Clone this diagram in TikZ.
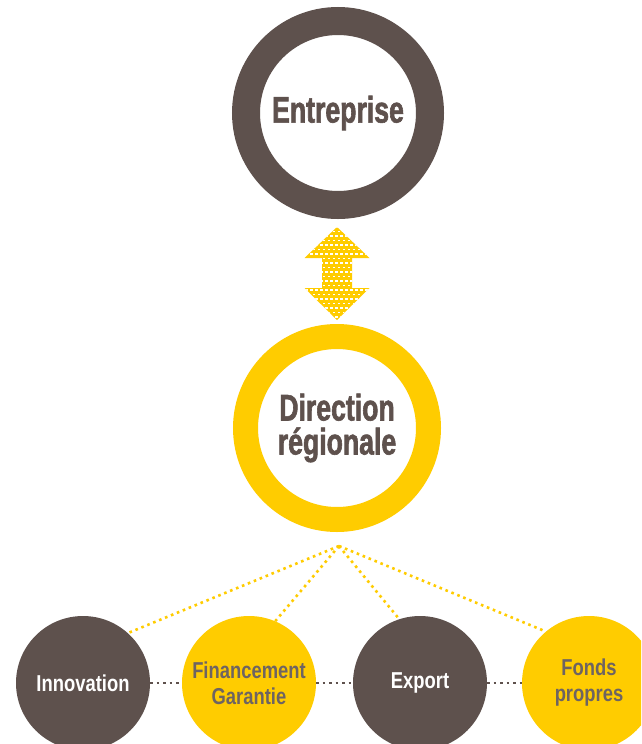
\documentclass[tikz,border=0pt]{standalone}
\usepackage{fontspec}
\setmainfont{Liberation Sans}
\newfontfamily\bigcond{Liberation Sans}[FakeStretch=0.72,FakeBold=1.6]
\newfontfamily\smallcond{Liberation Sans}[FakeStretch=0.8]
\definecolor{brownc}{HTML}{5E514D}
\definecolor{yellowc}{HTML}{FFCC00}
\definecolor{greytxt}{HTML}{6E6462}
\tikzset{
  ring/.style={circle, draw, fill=white, inner sep=0pt, align=center, text=brownc,
    font=\bigcond\bfseries\fontsize{37}{34}\selectfont},
  disc/.style={circle, inner sep=0pt, minimum size=134pt, align=center,
    font=\smallcond\bfseries\fontsize{23}{26}\selectfont},
  darkdisc/.style={disc, fill=brownc, text=white},
  yellowdisc/.style={disc, fill=yellowc, text=greytxt},
  ylink/.style={draw=yellowc, line width=2.6pt, dash pattern=on 2.6pt off 3.8pt},
  glink/.style={draw=brownc, line width=2.3pt, dash pattern=on 2.3pt off 4.2pt}
}
\begin{document}
\begin{tikzpicture}[x=1pt,y=-1pt]
\useasboundingbox (0,0) rectangle (641,744);
\fill[white] (0,0) rectangle (641,744);
\clip (0,0) rectangle (641,744);

% rings
\node[ring, draw=brownc, line width=28pt, minimum size=184pt] (ent) at (338,113) {Entreprise};
\node[ring, draw=yellowc, line width=25pt, minimum size=183pt] (dir) at (337,428) {Direction\\régionale};

% double arrow
\def\arrowpath{(337,227) -- (369.5,258) -- (352,258) -- (352,288) -- (369.5,288) -- (337,320) -- (304.5,288) -- (322,288) -- (322,258) -- (304.5,258) -- cycle}
\fill[yellowc] \arrowpath;
\begin{scope}
  \clip \arrowpath;
  \foreach \r in {0,...,21}{
    \foreach \c in {0,...,14}{
      \pgfmathsetmacro{\xx}{300 + \c*5 + mod(\r,2)*2.5}
      \pgfmathsetmacro{\yy}{226 + \r*4.5}
      \fill[white] (\xx,\yy) rectangle +(2.8,1.5);
    }
  }
\end{scope}

% bottom discs
\node[darkdisc] (innov) at (83,683) {Innovation};
\node[yellowdisc] (fin) at (249,683) {Financement\\Garantie};
\node[darkdisc] (exp) at (420,683) {Export};
\node[yellowdisc] (fonds) at (589,683) {Fonds\\propres};

% connectors
\coordinate (apex) at (339,546);
\draw[ylink] (apex) -- (innov.48);
\draw[ylink] (apex) -- (fin.67);
\draw[ylink] (apex) -- (exp.108);
\draw[ylink] (apex) -- (fonds.130);

\draw[glink] (innov) -- (fin);
\draw[glink] (fin) -- (exp);
\draw[glink] (exp) -- (fonds);
\end{tikzpicture}
\end{document}
